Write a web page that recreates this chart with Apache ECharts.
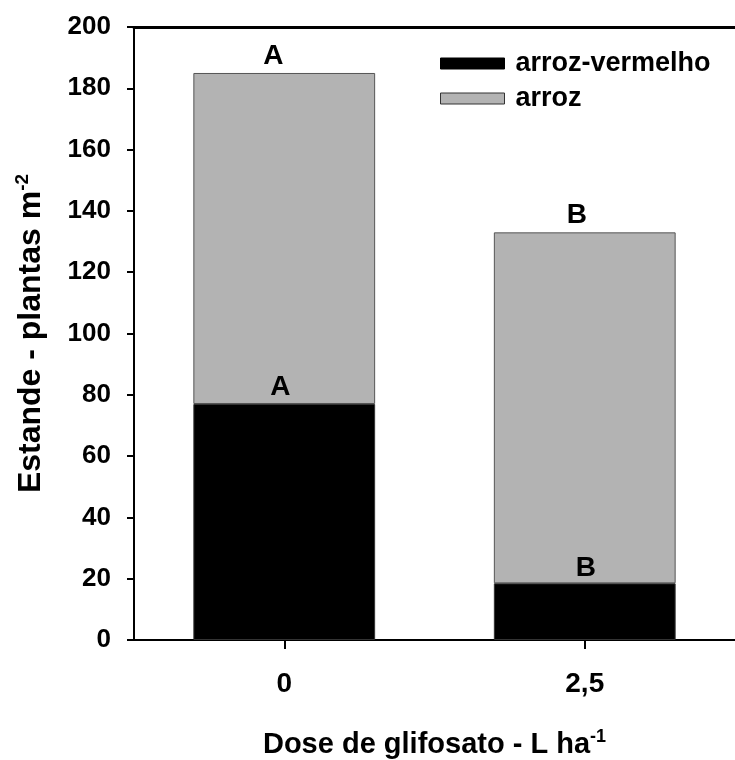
<!DOCTYPE html>
<html>
<head>
<meta charset="utf-8">
<script src="https://cdn.jsdelivr.net/npm/echarts@6/dist/echarts.min.js"></script>
<style>
  html, body { margin: 0; padding: 0; background: #fff; }
  #chart { width: 735px; height: 760px; }
</style>
</head>
<body>
<div id="chart"></div>
<script>
// Plant stand (plants per m²) by glyphosate dose
var categories = ['0', '2,5'];
var arrozVermelho = [77, 18.5];      // red rice (lower segment)
var arroz = [108, 114.5];            // cultivated rice (upper segment)
var letrasVermelho = ['A', 'B'];
var letrasTotal = ['A', 'B'];
var yTicks = [0, 20, 40, 60, 80, 100, 120, 140, 160, 180, 200];

var FONT = '"Liberation Sans", Arial, sans-serif';

// small hand nudges for the significance letters ([dx, dy] per bar)
var nudgeVermelho = [[-4, 1], [1, 3]];
var nudgeTotal = [[-11, 1], [-8, 1]];

var chart = echarts.init(document.getElementById('chart'), null, { renderer: 'canvas' });

function barData(values, letters, nudges) {
  return values.map(function (v, i) {
    return {
      value: v,
      label: { formatter: letters[i], offset: nudges[i] }
    };
  });
}

var letterLabel = {
  show: true,
  position: 'top',
  distance: 4,
  color: '#000',
  fontFamily: FONT,
  fontWeight: 'bold',
  fontSize: 28
};

chart.setOption({
  animation: false,
  backgroundColor: '#fff',
  textStyle: { fontFamily: FONT },
  grid: { left: 134, right: 0, top: 27, bottom: 120, containLabel: false, outerBoundsMode: 'none' },
  legend: {
    left: 435,
    top: 45,
    orient: 'vertical',
    itemWidth: 64,
    itemHeight: 11,
    itemGap: 8,
    icon: 'rect',
    textStyle: { fontFamily: FONT, fontWeight: 'bold', fontSize: 27, color: '#000', padding: [0, 0, 0, 6] },
    data: [
      { name: 'arroz-vermelho', itemStyle: { color: '#000', borderColor: '#000', borderWidth: 1 } },
      { name: 'arroz', itemStyle: { color: '#b3b3b3', borderColor: '#333', borderWidth: 1 } }
    ]
  },
  xAxis: [
    {
      type: 'category',
      data: categories,
      position: 'bottom',
      axisLine: { show: true, lineStyle: { color: '#000', width: 2 } },
      axisTick: { show: true, alignWithLabel: true, length: 9, lineStyle: { color: '#000', width: 2 } },
      axisLabel: { color: '#000', fontFamily: FONT, fontWeight: 'bold', fontSize: 28, margin: 30 },
      name: '{t|Dose de glifosato - L ha}{s|-1}',
      nameLocation: 'middle',
      nameGap: 88,
      nameTextStyle: {
        rich: {
          t: { fontFamily: FONT, fontWeight: 'bold', fontSize: 29, color: '#000' },
          s: { fontFamily: FONT, fontWeight: 'bold', fontSize: 18, color: '#000', verticalAlign: 'top', padding: [0, 0, 16, 0] }
        }
      },
      splitLine: { show: false }
    },
    {
      // frame line along the top of the plot
      type: 'category',
      data: categories,
      position: 'top',
      axisLine: { show: true, lineStyle: { color: '#000', width: 3 } },
      axisTick: { show: false },
      axisLabel: { show: false },
      splitLine: { show: false }
    }
  ],
  yAxis: {
    type: 'value',
    min: yTicks[0],
    max: yTicks[yTicks.length - 1],
    interval: yTicks[1] - yTicks[0],
    axisLine: { show: true, lineStyle: { color: '#000', width: 2 } },
    axisTick: { show: true, length: 7, lineStyle: { color: '#000', width: 2 } },
    axisLabel: { color: '#000', fontFamily: FONT, fontWeight: 'bold', fontSize: 26, margin: 23 },
    splitLine: { show: false },
    name: '{t|Estande - plantas m}{s|-2}',
    nameLocation: 'middle',
    nameRotate: 90,
    nameGap: 84,
    nameTextStyle: {
      rich: {
        t: { fontFamily: FONT, fontWeight: 'bold', fontSize: 32, color: '#000' },
        s: { fontFamily: FONT, fontWeight: 'bold', fontSize: 19, color: '#000', verticalAlign: 'top', padding: [0, 0, 18, 0] }
      }
    }
  },
  series: [
    {
      name: 'arroz-vermelho',
      type: 'bar',
      stack: 'estande',
      barWidth: '60.5%',
      data: barData(arrozVermelho, letrasVermelho, nudgeVermelho),
      itemStyle: { color: '#000', borderColor: '#333', borderWidth: 1 },
      label: letterLabel,
      z: 3
    },
    {
      name: 'arroz',
      type: 'bar',
      stack: 'estande',
      barWidth: '60.5%',
      data: barData(arroz, letrasTotal, nudgeTotal),
      itemStyle: { color: '#b3b3b3', borderColor: '#555', borderWidth: 1 },
      label: letterLabel,
      z: 2
    }
  ]
});
</script>
</body>
</html>
